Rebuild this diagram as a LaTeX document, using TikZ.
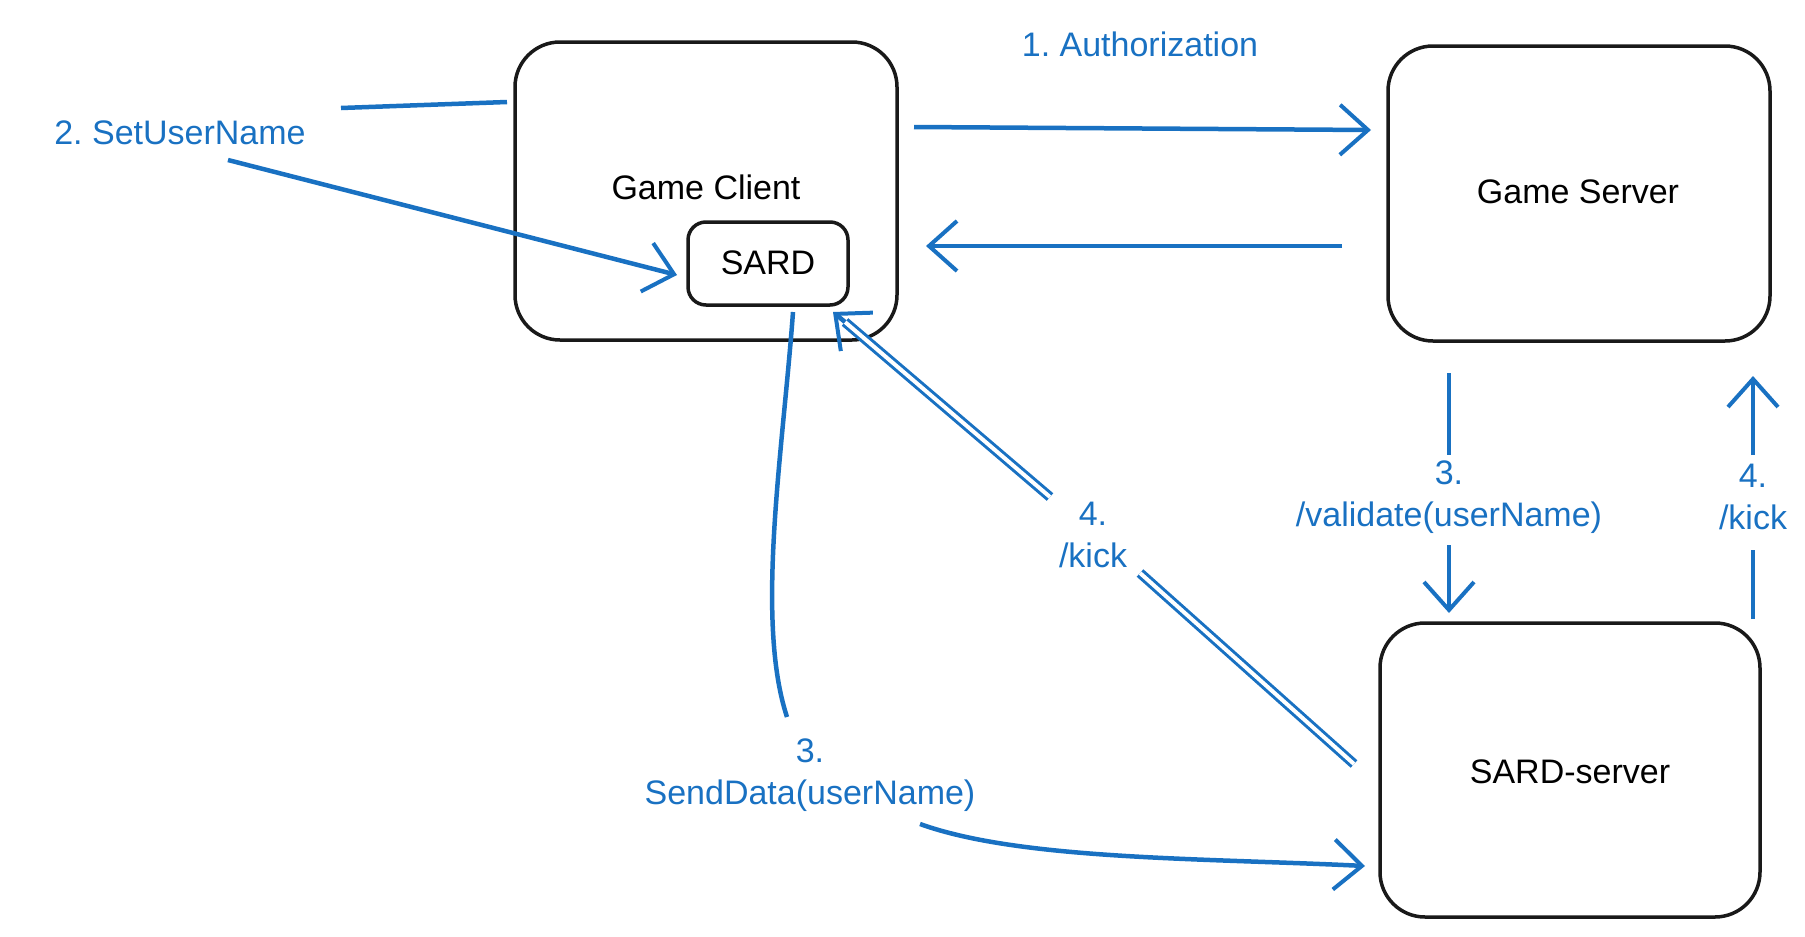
\documentclass[tikz,border=0pt]{standalone}
\usepackage{fontspec}
\setmainfont{Liberation Sans}
\usetikzlibrary{arrows.meta}
\definecolor{sblue}{RGB}{25,113,194}
\tikzset{
  box/.style={draw=black!90, line width=3.5pt, rounded corners=45pt},
  line/.style={draw=sblue, line width=4.5pt},
  conn/.style={line, -{Straight Barb[length=28pt,width=50pt,line width=4pt]}},
  lab/.style={text=sblue, font=\fontsize{34}{42}\selectfont, align=center},
  txt/.style={font=\fontsize{34}{42}\selectfont}
}
\begin{document}
\begin{tikzpicture}[x=1pt,y=-1pt]
\useasboundingbox (0,0) rectangle (1805,937);

\draw[box] (515,42) rectangle (897,340);
\draw[box, rounded corners=18pt] (688,222) rectangle (848,305);
\draw[box] (1388,46) rectangle (1770,341);
\draw[box] (1380,623) rectangle (1760,917);

\node[txt] (client) at (706,187) {Game Client};
\node[txt] (sard) at (768,263) {SARD};
\node[txt] (server) at (1578,192) {Game Server};
\node[txt] (sardsrv) at (1570,772) {SARD-server};

\coordinate (a1) at (914,127);
\coordinate (a2) at (1371,130);
\coordinate (b1) at (1342,246);
\coordinate (b2) at (926,246);
\coordinate (c1) at (228,160);
\coordinate (c2) at (677,275);
\coordinate (d1) at (1449,373);
\coordinate (d2) at (1449,613);
\coordinate (e1) at (1753,619);
\coordinate (e2) at (1753,376);
\coordinate (f1) at (1354,764);
\coordinate (f2) at (833,312);
\coordinate (f3) at (845,322);
\coordinate (g1) at (793,312);
\coordinate (g2) at (787,717);
\coordinate (h1) at (920,824);
\coordinate (h2) at (1365,866);
\coordinate (s1) at (341,108);
\coordinate (s2) at (507,102);

\node[lab] (auth) at (1140,44) {1.\ Authorization};
\node[lab] (setuser) at (180,133) {2.\ SetUserName};
\node[lab] (valid) at (1449,497) {3.\\/validate(userName)};
\node[lab] (kick) at (1753,497) {4.\\/kick};
\node[lab, fill=white, inner sep=2pt] (kick2) at (1093,535) {4.\\/kick};
\node[lab] (send) at (810,775) {3.\\SendData(userName)};

\draw[conn] (a1) -- (a2);
\draw[conn] (b1) -- (b2);
\draw[line] (s1) -- (s2);
\draw[conn] (c1) -- (c2);
\draw[line] (d1) -- (1449,455);
\draw[conn] (1449,545) -- (d2);
\draw[line] (e1) -- (1753,550);
\draw[conn] (1753,455) -- (e2);
\draw[line, line width=3pt, double=white, double distance=4pt] (f1) -- (1140,573);
\draw[line, line width=3pt, double=white, double distance=4pt] (1050,497) -- (f3);
\draw[conn] (f3) -- (f2);
\draw[line] (g1) .. controls (783,450) and (755,620) .. (g2);
\draw[conn] (h1) .. controls (1020,860) and (1200,858) .. (h2);
\end{tikzpicture}
\end{document}
